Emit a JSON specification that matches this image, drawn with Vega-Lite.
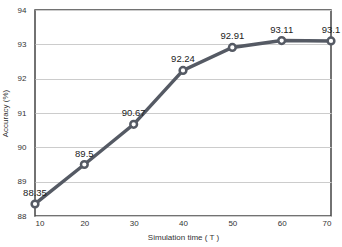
{
  "$schema": "https://vega.github.io/schema/vega-lite/v6.json",
  "width": 296,
  "height": 206,
  "autosize": "none",
  "padding": {"left": 35, "top": 10, "right": 11, "bottom": 31},
  "background": "white",
  "config": {
    "view": {"stroke": "#444444", "strokeWidth": 1.5},
    "font": "Liberation Sans",
    "axis": {"labelFont": "Liberation Sans", "titleFont": "Liberation Sans", "labelColor": "#333333", "titleColor": "#333333", "labelFontSize": 8, "titleFontSize": 8, "titleFontWeight": "normal", "ticks": false, "domain": false}
  },
  "data": {"values": [
    {"T": 10, "acc": 88.35, "label": "88.35"},
    {"T": 20, "acc": 89.5, "label": "89.5"},
    {"T": 30, "acc": 90.67, "label": "90.67"},
    {"T": 40, "acc": 92.24, "label": "92.24"},
    {"T": 50, "acc": 92.91, "label": "92.91"},
    {"T": 60, "acc": 93.11, "label": "93.11"},
    {"T": 70, "acc": 93.1, "label": "93.1"}
  ]},
  "encoding": {
    "x": {"field": "T", "type": "quantitative", "scale": {"domain": [10, 70], "nice": false, "zero": false},
      "axis": {"values": [10, 20, 30, 40, 50, 60, 70], "grid": false, "title": "Simulation time ( T )", "labelPadding": 3, "titlePadding": 6}},
    "y": {"field": "acc", "type": "quantitative", "scale": {"domain": [88, 94], "nice": false, "zero": false},
      "axis": {"values": [88, 89, 90, 91, 92, 93, 94], "grid": true, "gridColor": "#cccccc", "gridWidth": 1, "title": "Accuracy (%)", "labelPadding": 9, "titlePadding": 8}}
  },
  "layer": [
    {"mark": {"type": "line", "color": "#555a64", "strokeWidth": 3.5}},
    {"mark": {"type": "point", "shape": "circle", "filled": false, "fill": "white", "fillOpacity": 1, "stroke": "#555a64", "strokeWidth": 2.5, "size": 45, "opacity": 1}},
    {"mark": {"type": "text", "dy": -11, "fontSize": 9.5, "color": "#222222", "font": "Liberation Sans"}, "encoding": {"text": {"field": "label"}}}
  ]
}
